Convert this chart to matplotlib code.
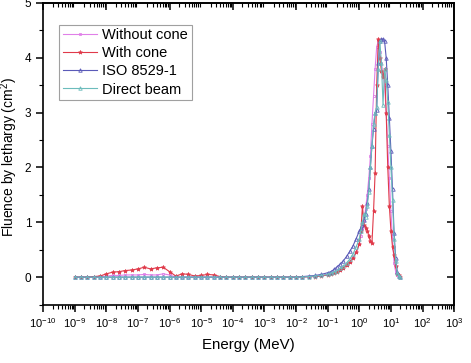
import matplotlib
matplotlib.use("Agg")
import matplotlib.pyplot as plt
import numpy as np
from matplotlib.ticker import LogLocator, MultipleLocator, NullFormatter

plt.rcParams['font.family'] = ['Liberation Sans', 'DejaVu Sans']
plt.rcParams['mathtext.fontset'] = 'custom'
plt.rcParams['mathtext.rm'] = 'Liberation Sans'
plt.rcParams['mathtext.it'] = 'Liberation Sans:italic'

# energy grid, log10(E / MeV)
log_energy = [-9.0, -8.8, -8.6, -8.4, -8.2, -8.0, -7.8, -7.6, -7.4, -7.2,
              -7.0, -6.8, -6.6, -6.4, -6.2, -6.0, -5.8, -5.6, -5.4, -5.2,
              -5.0, -4.8, -4.6, -4.4, -4.2, -4.0, -3.8, -3.6, -3.4, -3.2,
              -3.0, -2.8, -2.6, -2.4, -2.2, -2.0,
              -1.8, -1.6, -1.4, -1.2, -1.0, -0.9, -0.8, -0.7, -0.6, -0.5,
              -0.4, -0.3, -0.2, -0.1, 0.0, 0.05, 0.1, 0.15, 0.2, 0.25,
              0.3, 0.35, 0.4, 0.45, 0.5, 0.55, 0.6, 0.65, 0.7, 0.75,
              0.8, 0.85, 0.9, 0.95, 1.0, 1.05, 1.1, 1.15, 1.2, 1.25, 1.3]

without_cone = [0, 0, 0, 0, 0.01, 0.02, 0.03, 0.03, 0.04, 0.04,
                0.04, 0.05, 0.04, 0.04, 0.06, 0.04, 0.0, 0.0, 0.0, 0.0,
                0, 0, 0, 0, 0, 0, 0, 0, 0, 0,
                0, 0, 0, 0, 0, 0,
                0, 0.01, 0.02, 0.03, 0.05, 0.06, 0.08, 0.10, 0.13, 0.17,
                0.22, 0.28, 0.36, 0.45, 0.60, 0.75, 0.90, 1.05, 1.25, 1.50,
                1.80, 2.20, 2.80, 3.30, 3.80, 4.20, 4.30, 4.10, 3.90, 3.70,
                3.50, 3.00, 2.40, 1.80, 1.20, 0.70, 0.25, 0.10, 0.03, 0.01, 0]

with_cone = [0, 0, 0, 0.01, 0.02, 0.06, 0.09, 0.10, 0.12, 0.13,
             0.15, 0.18, 0.15, 0.17, 0.18, 0.10, 0.02, 0.06, 0.05, 0.02,
             0.03, 0.05, 0.04, 0.01, 0, 0, 0, 0, 0, 0,
             0, 0, 0, 0, 0, 0,
             0, 0.01, 0.01, 0.02, 0.04, 0.05, 0.07, 0.10, 0.13, 0.17,
             0.22, 0.28, 0.35, 0.45, 0.60, 0.85, 1.30, 0.95, 0.90, 0.85,
             0.75, 0.65, 0.62, 1.20, 1.90, 3.50, 4.34, 4.00, 3.75, 3.65,
             3.80, 3.00, 2.00, 1.30, 0.85, 0.55, 0.40, 0.20, 0.06, 0.03, 0]

iso_8529 = [0, 0, 0, 0, 0, 0, 0, 0, 0, 0,
            0, 0, 0, 0, 0, 0, 0, 0, 0, 0,
            0, 0, 0, 0, 0, 0, 0, 0, 0, 0,
            0, 0, 0, 0, 0, 0,
            0.01, 0.02, 0.03, 0.05, 0.08, 0.10, 0.14, 0.19, 0.24, 0.30,
            0.38, 0.47, 0.57, 0.70, 0.84, 0.90, 0.95, 1.05, 1.15, 1.35,
            1.60, 2.00, 2.40, 2.70, 3.00, 3.05, 3.90, 4.30, 4.34, 4.34,
            4.30, 4.00, 3.50, 2.90, 2.30, 1.60, 0.80, 0.35, 0.10, 0.02, 0]

direct_beam = [0, 0, 0, 0, 0, 0, 0, 0, 0, 0,
               0, 0, 0, 0, 0, 0, 0, 0, 0, 0,
               0, 0, 0, 0, 0, 0, 0, 0, 0, 0,
               0, 0, 0, 0, 0, 0,
               0, 0.01, 0.02, 0.03, 0.05, 0.07, 0.09, 0.12, 0.16, 0.20,
               0.26, 0.33, 0.42, 0.55, 0.70, 0.85, 1.00, 1.15, 1.10, 1.30,
               1.55, 2.00, 2.40, 2.80, 3.00, 3.10, 3.80, 4.30, 3.90, 3.14,
               3.80, 3.60, 3.20, 2.60, 2.00, 1.40, 0.70, 0.30, 0.08, 0.02, 0]

energy = 10 ** np.array(log_energy)

fig = plt.figure(figsize=(4.71, 3.63), dpi=100)
ax = fig.add_axes([0.0913, 0.161, 0.873, 0.831])

ax.plot(energy, without_cone, color='#e080e8', lw=0.8, marker='s', ms=2,
        mfc='none', mew=0.6, label='Without cone')
ax.plot(energy, with_cone, color='#e03a4a', lw=0.8, marker='*', ms=3,
        mew=0.5, label='With cone')
ax.plot(energy, iso_8529, color='#5a5ab8', lw=0.8, marker='^', ms=2.5,
        mfc='none', mew=0.6, label='ISO 8529-1')
ax.plot(energy, direct_beam, color='#6cbcbc', lw=0.8, marker='^', ms=2.5,
        mfc='none', mew=0.6, label='Direct beam')

ax.set_xscale('log')
ax.set_xlim(1e-10, 1e3)
ax.set_ylim(-0.5, 5)

ax.xaxis.set_major_locator(LogLocator(base=10, numticks=20))
ax.xaxis.set_minor_locator(LogLocator(base=10, subs=np.arange(2, 10), numticks=200))
ax.xaxis.set_minor_formatter(NullFormatter())
ax.yaxis.set_major_locator(MultipleLocator(1))
ax.yaxis.set_minor_locator(MultipleLocator(0.5))

ax.tick_params(which='major', direction='out', length=5, width=1.1, labelsize=8.5)
ax.tick_params(which='minor', direction='out', length=3, width=0.8)
ax.tick_params(axis='x', labelsize=8)

for s in ax.spines.values():
    s.set_linewidth(1.2)

top = ax.secondary_xaxis('top')
top.xaxis.set_minor_locator(LogLocator(base=10, subs=np.arange(2, 10), numticks=200))
top.tick_params(which='major', direction='in', length=5, width=1.1, labeltop=False)
top.tick_params(which='minor', direction='in', length=3, width=0.8)
right = ax.secondary_yaxis('right')
right.yaxis.set_major_locator(MultipleLocator(1))
right.yaxis.set_minor_locator(MultipleLocator(0.5))
right.tick_params(which='major', direction='in', length=5, width=1.1, labelright=False)
right.tick_params(which='minor', direction='in', length=3, width=0.8)
for sec in (top, right):
    for s in sec.spines.values():
        s.set_linewidth(1.2)

ax.set_xlabel('Energy (MeV)', fontsize=10.8, labelpad=6)
ax.set_ylabel('Fluence by lethargy (cm$^2$)', fontsize=10)
ax.yaxis.set_label_coords(-0.056, 0.49)

leg = ax.legend(loc='upper left', bbox_to_anchor=(0.04, 0.928), fontsize=10.5,
                frameon=True, fancybox=False, edgecolor='#888888',
                handlelength=2.3, handletextpad=0.4, borderpad=0.25,
                labelspacing=0.28, borderaxespad=0)
leg.get_frame().set_linewidth(0.8)

fig.savefig('out.png', dpi=100)
